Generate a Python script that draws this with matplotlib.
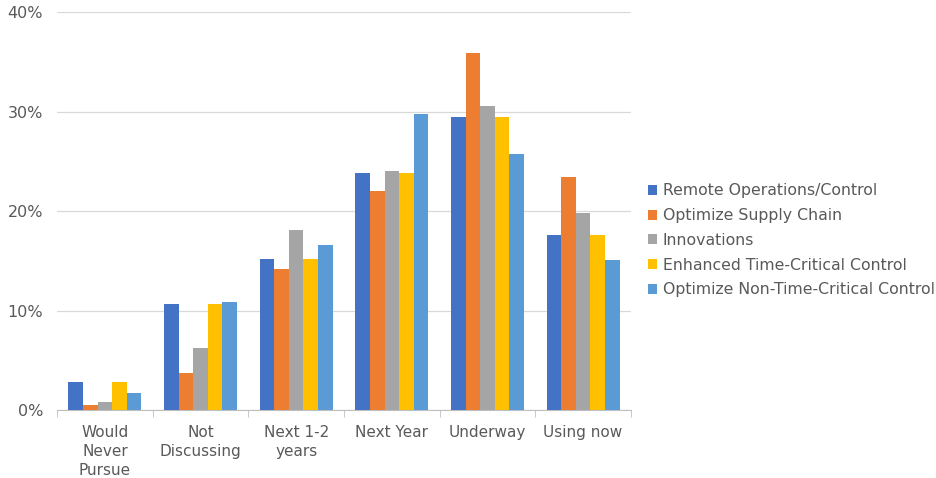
import matplotlib
matplotlib.use("Agg")
import matplotlib.pyplot as plt
import numpy as np
from matplotlib.ticker import FuncFormatter

# Survey responses, percent of respondents per stage
stages = ["Would\nNever\nPursue", "Not\nDiscussing", "Next 1-2\nyears",
          "Next Year", "Underway", "Using now"]
series_names = ["Remote Operations/Control", "Optimize Supply Chain",
                "Innovations", "Enhanced Time-Critical Control",
                "Optimize Non-Time-Critical Control"]
remote_ops = [2.85, 10.7, 15.25, 23.8, 29.5, 17.65]
supply_chain = [0.55, 3.7, 14.15, 22.05, 35.9, 23.4]
innovations = [0.85, 6.25, 18.1, 24.05, 30.6, 19.85]
time_critical = [2.85, 10.7, 15.25, 23.8, 29.5, 17.65]
non_time_critical = [1.7, 10.9, 16.6, 29.75, 25.8, 15.1]
colors = ["#4472C4", "#ED7D31", "#A5A5A5", "#FFC000", "#5B9BD5"]

series = [remote_ops, supply_chain, innovations, time_critical, non_time_critical]

plt.rcParams['font.family'] = ['DejaVu Sans']
fig = plt.figure(figsize=(9.36, 4.78), dpi=100)
ax = fig.add_axes([0.061, 0.142, 0.613, 0.832])

x = np.arange(len(stages))
bw = 0.1525
for i, (vals, name, c) in enumerate(zip(series, series_names, colors)):
    ax.bar(x + (i - 2) * bw, vals, width=bw, color=c, label=name, zorder=3)

ax.set_xlim(-0.5, len(stages) - 0.5)
ax.set_ylim(0, 40)
ax.set_yticks([0, 10, 20, 30, 40])
ax.yaxis.set_major_formatter(FuncFormatter(lambda v, p: f"{v:.0f}%"))
ax.grid(axis="y", color="#D9D9D9", linewidth=0.9, zorder=0)

for s in ["top", "right", "left"]:
    ax.spines[s].set_visible(False)
ax.spines["bottom"].set_color("#BFBFBF")

ax.set_xticks(x)
ax.set_xticklabels(stages, linespacing=1.3)
ax.tick_params(axis="x", length=0, pad=11, labelsize=11, labelcolor="#595959")
ax.tick_params(axis="y", length=0, pad=10, labelsize=11.5, labelcolor="#595959")
# separator ticks between categories
ax.set_xticks(np.arange(-0.5, len(stages)), minor=True)
ax.tick_params(axis="x", which="minor", length=5, color="#BFBFBF")

leg = ax.legend(loc="center left", bbox_to_anchor=(648 / 936, 0.497),
                bbox_transform=fig.transFigure, frameon=False,
                fontsize=11.3, handlelength=0.6, handleheight=0.6,
                handletextpad=0.35, labelspacing=0.62, borderaxespad=0,
                borderpad=0)
for t in leg.get_texts():
    t.set_color("#595959")

fig.savefig("out.png", dpi=100)
